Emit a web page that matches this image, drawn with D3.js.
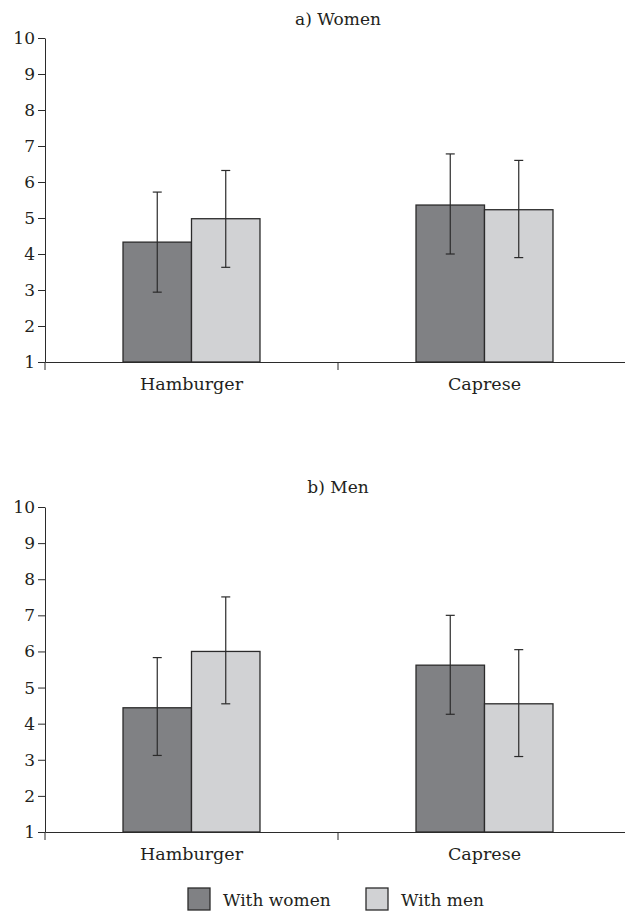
<!DOCTYPE html>
<html>
<head>
<meta charset="utf-8">
<script src="https://cdn.jsdelivr.net/npm/d3@7"></script>
<style>
  body { margin: 0; background: #fff; }
  text { font-family: "DejaVu Serif", "Liberation Serif", serif; fill: #231f20; }
</style>
</head>
<body>
<svg id="chart"></svg>
<script>
// categories and series
var categories = ["Hamburger", "Caprese"];
var seriesNames = ["With women", "With men"];
var yTicks = [1, 2, 3, 4, 5, 6, 7, 8, 9, 10];

// a) Women
var womenWithWomen = [4.33, 5.36];
var womenWithMen = [4.98, 5.23];
var womenWithWomenLow = [2.94, 4.00];
var womenWithWomenHigh = [5.72, 6.78];
var womenWithMenLow = [3.63, 3.90];
var womenWithMenHigh = [6.32, 6.60];

// b) Men
var menWithWomen = [4.44, 5.62];
var menWithMen = [6.00, 4.55];
var menWithWomenLow = [3.12, 4.26];
var menWithWomenHigh = [5.83, 7.00];
var menWithMenLow = [4.55, 3.09];
var menWithMenHigh = [7.51, 6.05];

var W = 625, H = 911;
var colors = ["#808184", "#d1d2d4"];
var ink = "#2b2b2b";

var svg = d3.select("#chart").attr("width", W).attr("height", H);

var x = d3.scaleBand().domain(categories).range([45, 631]);
var xs = d3.scaleBand().domain(seriesNames)
    .range([0, x.bandwidth()]).paddingOuter(1.139);

function panel(title, top, bottom, titleY, vals, lows, highs) {
    var y = d3.scaleLinear().domain([1, 10]).range([bottom, top]);
    var g = svg.append("g");

    g.append("text")
        .attr("x", (x.range()[0] + x.range()[1]) / 2)
        .attr("y", titleY)
        .attr("text-anchor", "middle")
        .style("font-size", "17px")
        .text(title);

    // bars
    seriesNames.forEach(function(s, si) {
        g.selectAll(".bar" + si)
            .data(categories)
            .enter().append("rect")
            .attr("x", function(c) { return x(c) + xs(s); })
            .attr("width", xs.bandwidth())
            .attr("y", function(c, i) { return y(vals[si][i]); })
            .attr("height", function(c, i) { return y(1) - y(vals[si][i]); })
            .attr("fill", colors[si])
            .attr("stroke", ink)
            .attr("stroke-width", 1.3);
    });

    // error bars
    seriesNames.forEach(function(s, si) {
        categories.forEach(function(c, i) {
            var cx = x(c) + xs(s) + xs.bandwidth() / 2;
            var lo = y(lows[si][i]), hi = y(highs[si][i]);
            g.append("line").attr("x1", cx).attr("x2", cx).attr("y1", lo).attr("y2", hi)
                .attr("stroke", ink).attr("stroke-width", 1.2);
            [lo, hi].forEach(function(v) {
                g.append("line").attr("x1", cx - 4.5).attr("x2", cx + 4.5).attr("y1", v).attr("y2", v)
                    .attr("stroke", ink).attr("stroke-width", 1.2);
            });
        });
    });

    // y axis
    var ya = g.append("g")
        .attr("transform", "translate(" + x.range()[0] + ",0)")
        .call(d3.axisLeft(y).tickValues(yTicks).tickSize(7).tickSizeOuter(0).tickPadding(3));
    ya.selectAll("path, line").attr("stroke", ink);
    ya.selectAll("text").style("font-size", "17px").attr("fill", "#231f20")
        .style("font-family", "DejaVu Serif, serif");

    // x axis
    var xa = g.append("g")
        .attr("transform", "translate(0," + y(1) + ")")
        .call(d3.axisBottom(x).tickSize(0).tickSizeOuter(0).tickPadding(16));
    xa.select(".domain").attr("stroke", ink);
    xa.selectAll("text").style("font-size", "17.5px").attr("fill", "#231f20")
        .style("font-family", "DejaVu Serif, serif");

    // category boundary ticks
    g.selectAll(".bt")
        .data(categories)
        .enter().append("line")
        .attr("x1", function(c) { return x(c); })
        .attr("x2", function(c) { return x(c); })
        .attr("y1", y(1))
        .attr("y2", y(1) + 8)
        .attr("stroke", ink);
}

panel("a) Women", 38, 362, 25,
    [womenWithWomen, womenWithMen],
    [womenWithWomenLow, womenWithMenLow],
    [womenWithWomenHigh, womenWithMenHigh]);

panel("b) Men", 507, 832, 493,
    [menWithWomen, menWithMen],
    [menWithWomenLow, menWithMenLow],
    [menWithWomenHigh, menWithMenHigh]);

// legend
var legendX = [188, 366];
var legend = svg.append("g");
seriesNames.forEach(function(s, i) {
    legend.append("rect")
        .attr("x", legendX[i]).attr("y", 888)
        .attr("width", 22).attr("height", 22)
        .attr("fill", colors[i]).attr("stroke", ink).attr("stroke-width", 1.3);
    legend.append("text")
        .attr("x", legendX[i] + 35).attr("y", 906)
        .style("font-size", "17px")
        .text(s);
});
</script>
</body>
</html>
